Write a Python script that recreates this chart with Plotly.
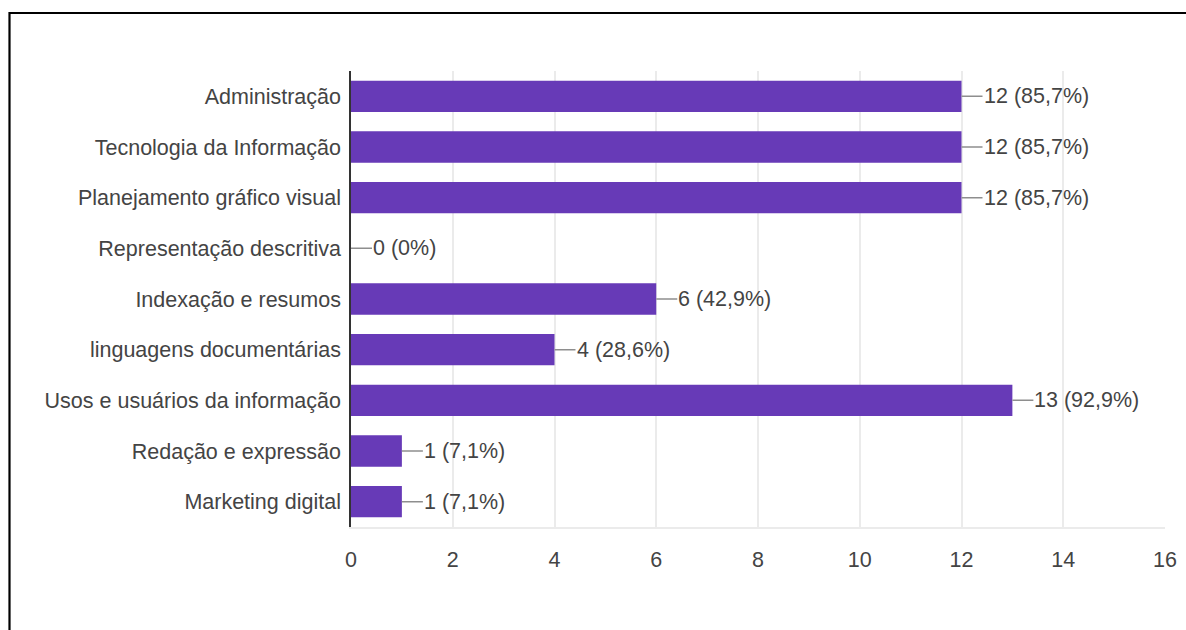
import plotly.graph_objects as go

categories = [
    "Administração",
    "Tecnologia da Informação",
    "Planejamento gráfico visual",
    "Representação descritiva",
    "Indexação e resumos",
    "linguagens documentárias",
    "Usos e usuários da informação",
    "Redação e expressão",
    "Marketing digital",
]
values = [12, 12, 12, 0, 6, 4, 13, 1, 1]
labels = ["12 (85,7%)", "12 (85,7%)", "12 (85,7%)", "0 (0%)", "6 (42,9%)",
          "4 (28,6%)", "13 (92,9%)", "1 (7,1%)", "1 (7,1%)"]
x_ticks = [0, 2, 4, 6, 8, 10, 12, 14, 16]

FONT = "Liberation Sans, Arial, sans-serif"
FS = 21.5
TXT = "#444444"

W, H = 1186, 630
ML, MR, MT, MB = 351, 21, 71, 103

fig = go.Figure()
fig.add_trace(go.Bar(
    x=values, y=categories, orientation="h",
    marker=dict(color="#673ab7", line=dict(width=0)),
    width=0.62, hoverinfo="skip",
))

for v, c, t in zip(values, categories, labels):
    fig.add_annotation(
        x=v, y=c, xref="x", yref="y", text=t,
        showarrow=True, arrowhead=0, arrowwidth=1.5, arrowcolor="#8e8e8e",
        ax=21, ay=0, xanchor="left", yanchor="middle", standoff=0,
        borderpad=0,
        font=dict(family=FONT, size=FS, color=TXT),
    )

pw = W - ML - MR
ph = H - MT - MB
# outer black frame (image border)
fig.add_shape(type="rect", xref="paper", yref="paper",
              x0=(9.5 - ML) / pw, x1=(W + 20 - ML) / pw,
              y0=-(MB + 20) / ph, y1=1 + (MT - 13) / ph,
              line=dict(color="black", width=2.2), layer="above")

fig.update_layout(
    width=W, height=H,
    margin=dict(l=ML, r=MR, t=MT, b=MB, pad=0, autoexpand=False),
    paper_bgcolor="white", plot_bgcolor="white",
    showlegend=False, bargap=0.38,
    font=dict(family=FONT, size=FS, color=TXT),
)
fig.update_xaxes(
    range=[0, 16], tickvals=x_ticks, ticktext=[str(t) for t in x_ticks],
    showgrid=True, gridcolor="#ebebeb", gridwidth=1.5,
    zeroline=False, showline=True, linecolor="#ebebeb", linewidth=2,
    mirror=False, ticks="", ticklen=0, automargin=False,
    ticklabelstandoff=12,
    tickfont=dict(family=FONT, size=FS, color=TXT),
    fixedrange=True,
)
fig.update_yaxes(
    autorange="reversed", showgrid=False, zeroline=False,
    showline=True, linecolor="#333333", linewidth=1.5,
    ticks="", ticklen=0, ticklabelstandoff=4, automargin=False,
    tickfont=dict(family=FONT, size=FS, color=TXT),
    fixedrange=True,
)

fig.write_html("out.html", config={"displayModeBar": False})
